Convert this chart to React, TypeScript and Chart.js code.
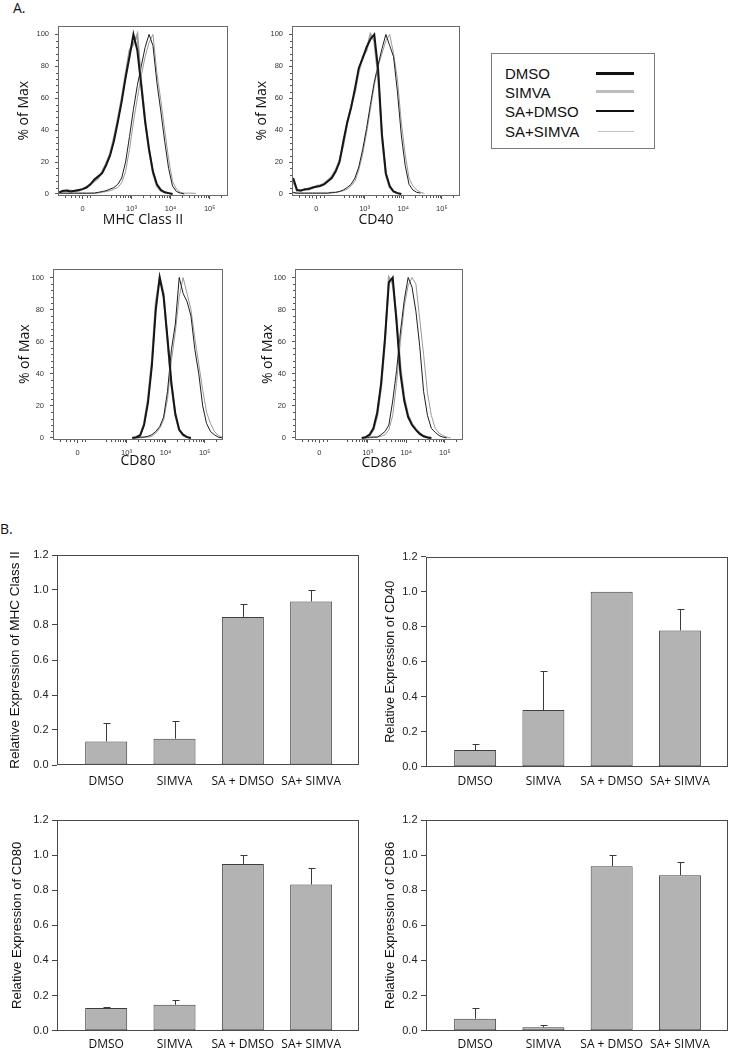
import React, { useEffect, useRef } from "react";
import { Chart, registerables } from "chart.js";

Chart.register(...registerables);

// ---------------- Panel A : flow cytometry histograms ----------------
const SERIES_NAMES = ["DMSO", "SIMVA", "SA+DMSO", "SA+SIMVA"];
const SERIES_COLORS = ["#161616", "#a0a0a0", "#1e1e1e", "#9a9a9a"];
const SERIES_WIDTHS = [2, 2, 1, 1];
const LEGEND_COLORS = ["#111111", "#bdbdbd", "#111111", "#c4c4c4"];
const LEGEND_WIDTHS = [3, 3, 1.5, 1];

const X_TICK_VALUES = [0, 1.25, 2.25, 3.25];
const X_TICK_LABELS = ["0", "10³", "10⁴", "10⁵"];
const Y_TICK_VALUES = [0, 20, 40, 60, 80, 100];

// MHC Class II
const MHC_X = [-0.6, -0.5, -0.4, -0.3, -0.2, -0.1, 0, 0.1, 0.2, 0.3, 0.4, 0.5, 0.6, 0.7, 0.8, 0.9, 1.0, 1.1, 1.2, 1.3, 1.4, 1.5, 1.6, 1.7, 1.8, 1.9, 2.0, 2.1, 2.2, 2.3, 2.4, 2.5, 2.6, 2.7, 2.8, 2.9];
const MHC_DMSO = [1, 2, 2, 1.5, 2, 2.5, 3, 4, 6, 9, 11, 13, 18, 24, 33, 45, 58, 73, 86, 100, 90, 68, 45, 28, 14, 6, 2.5, 1, 0.5, 0, null, null, null, null, null, null];
const MHC_SIMVA = [1, 1.5, 2.5, 2, 1.5, 2, 3, 4.5, 6, 8, 10, 14, 19, 25, 35, 47, 60, 75, 90, 94, 100, 70, 47, 27, 13, 5, 2, 1, 0.5, 0, null, null, null, null, null, null];
const MHC_SADMSO = [0.5, 0.5, 0.5, 0.5, 0.5, 0.5, 0.5, 0.5, 0.5, 0.5, 1, 1.5, 2, 3, 4, 6, 10, 20, 36, 53, 68, 80, 92, 100, 93, 70, 52, 33, 16, 5, 1.5, 0.5, 0, null, null, null];
const MHC_SASIMVA = [0.5, 0.5, 0.3, 0.3, 0.5, 0.3, 0.5, 0.3, 0.5, 0.5, 0.5, 1, 1.5, 2, 3, 4, 7, 14, 28, 45, 60, 74, 86, 95, 100, 76, 59, 40, 22, 8, 3, 1, 0.5, 0.5, 0.5, 0.3];

// CD40
const CD40_X = [-0.6, -0.5, -0.4, -0.3, -0.2, -0.1, 0, 0.1, 0.2, 0.3, 0.4, 0.5, 0.6, 0.7, 0.8, 0.9, 1.0, 1.1, 1.2, 1.3, 1.4, 1.5, 1.6, 1.7, 1.8, 1.9, 2.0, 2.1, 2.2, 2.3, 2.4, 2.5, 2.6, 2.7, 2.8];
const CD40_DMSO = [10, 2.5, 2, 3, 3, 4, 4.5, 5, 6, 8, 10, 14, 20, 33, 45, 54, 66, 79, 85, 92, 97, 100, 78, 37, 13, 5, 1.5, 0.5, 0, null, null, null, null, null, null];
const CD40_SIMVA = [8, 2, 2.5, 2.5, 3.5, 3.5, 5, 5.5, 6.5, 8.5, 11, 15, 21, 31, 44, 55, 64, 77, 86, 90, 100, 96, 74, 35, 12, 4, 1.5, 0.5, 0, null, null, null, null, null, null];
const CD40_SADMSO = [1, 0.5, 0.5, 0.5, 0.5, 0.5, 0.5, 0.5, 0.5, 0.5, 1, 1, 1.5, 2.5, 4, 6, 10, 17, 28, 41, 56, 70, 81, 91, 100, 93, 86, 64, 37, 18, 6, 2.5, 1, 0.5, null];
const CD40_SASIMVA = [0.5, 0.5, 0.5, 0.5, 0.5, 0.5, 0.5, 0.5, 0.5, 0.5, 0.5, 1, 1.5, 2, 3, 5, 8, 15, 25, 38, 53, 68, 80, 88, 96, 100, 88, 72, 45, 25, 10, 5, 2.5, 1, 0.3];

// CD80
const CD80_X = [1.4, 1.5, 1.6, 1.7, 1.8, 1.9, 2.0, 2.1, 2.2, 2.3, 2.4, 2.5, 2.6, 2.7, 2.8, 2.9, 3.0, 3.1, 3.2, 3.3, 3.4, 3.5, 3.6, 3.7];
const CD80_DMSO = [0, 0.5, 1.5, 8, 22, 45, 80, 100, 88, 62, 34, 15, 5, 2, 0.5, 0, null, null, null, null, null, null, null, null];
const CD80_SIMVA = [0, 0.5, 2, 9, 24, 48, 84, 100, 90, 60, 33, 14, 5, 1.5, 0.5, 0, null, null, null, null, null, null, null, null];
const CD80_SADMSO = [0, 0, 0.5, 0.5, 1, 2, 4, 7, 13, 29, 55, 71, 100, 90, 85, 76, 55, 40, 20, 9, 4, 2, 0.5, 0];
const CD80_SASIMVA = [0, 0, 0, 0.5, 0.5, 1, 3, 6, 11, 24, 48, 66, 88, 100, 90, 80, 62, 46, 30, 16, 9, 4, 1.5, 0.3];

// CD86
const CD86_X = [1.1, 1.2, 1.3, 1.4, 1.5, 1.6, 1.7, 1.8, 1.9, 2.0, 2.1, 2.2, 2.3, 2.4, 2.5, 2.6, 2.7, 2.8, 2.9, 3.0, 3.1, 3.2, 3.3, 3.4];
const CD86_DMSO = [0, 0.5, 2, 6, 16, 34, 62, 97, 100, 72, 40, 23, 13, 8, 5, 2.5, 1, 0.3, 0, null, null, null, null, null];
const CD86_SIMVA = [0, 0.5, 1.5, 5, 14, 32, 60, 100, 96, 75, 44, 25, 14, 9, 5.5, 3, 1.2, 0.4, 0, null, null, null, null, null];
const CD86_SADMSO = [0, 0, 0.5, 0.5, 0.5, 2, 4, 8, 23, 42, 66, 86, 100, 94, 79, 57, 29, 14, 6, 3.5, 1.5, 0.5, 0, null];
const CD86_SASIMVA = [0, 0, 0, 0.5, 0.5, 1, 2, 5, 14, 34, 60, 82, 95, 100, 96, 74, 52, 28, 14, 6, 3, 1.5, 0.5, 0];

// ---------------- Panel B : bar charts ----------------
const CATEGORIES = ["DMSO", "SIMVA", "SA + DMSO", "SA+ SIMVA"];
const BAR_Y_TICKS = [0, 0.2, 0.4, 0.6, 0.8, 1.0, 1.2];
const MHC_MEAN = [0.135, 0.15, 0.846, 0.935];
const MHC_ERR = [0.103, 0.1, 0.076, 0.065];
const CD40_MEAN = [0.095, 0.324, 1.0, 0.779];
const CD40_ERR = [0.033, 0.225, 0, 0.122];
const CD80_MEAN = [0.129, 0.148, 0.95, 0.833];
const CD80_ERR = [0.008, 0.028, 0.051, 0.091];
const CD86_MEAN = [0.068, 0.019, 0.937, 0.886];
const CD86_ERR = [0.063, 0.012, 0.064, 0.072];

// ---------------- axis decoration ----------------
const LOG_STEPS = [2, 3, 4, 5, 6, 7, 8, 9].map((k) => Math.log10(k));
const X_MINOR = [-0.45, -0.3, -0.2, -0.1, 0.1, 0.2].concat(
  [0.25, 1.25, 2.25, 3.25].flatMap((d) => LOG_STEPS.map((l) => d + l)).filter((v) => v > 0.7 && v < 3.72)
);
const Y_MINOR = Array.from({ length: 26 }, (_, i) => i * 4).filter((v) => v % 20 !== 0);

const ARIAL = "'Liberation Sans', Arial, sans-serif";
const OPEN = "'Open Sans', 'Liberation Sans', sans-serif";

type Rect = { left: number; top: number; width: number; height: number };
type Frame = { left: number; top: number; right: number; bottom: number };

const framePlugin = {
  id: "frame",
  afterDraw(chart: any, _args: any, opts: any) {
    const { ctx, chartArea: a } = chart;
    ctx.save();
    ctx.strokeStyle = opts.color || "#555";
    ctx.lineWidth = 1;
    ctx.strokeRect(Math.round(a.left) + 0.5, Math.round(a.top) + 0.5, Math.round(a.right) - Math.round(a.left) - 1, Math.round(a.bottom) - Math.round(a.top) - 1);
    ctx.restore();
  },
};

const minorTickPlugin = {
  id: "minorTicks",
  afterDraw(chart: any, _args: any, opts: any) {
    const { ctx, chartArea: a } = chart;
    const xs = chart.scales.x;
    const ys = chart.scales.y;
    ctx.save();
    ctx.strokeStyle = opts.color;
    ctx.lineWidth = 1;
    ctx.beginPath();
    (opts.x || []).forEach((v: number) => {
      if (v <= xs.min || v >= xs.max) return;
      const px = Math.round(xs.getPixelForValue(v)) + 0.5;
      ctx.moveTo(px, a.bottom);
      ctx.lineTo(px, a.bottom + opts.length);
    });
    (opts.y || []).forEach((v: number) => {
      if (v <= ys.min || v >= ys.max) return;
      const py = Math.round(ys.getPixelForValue(v)) + 0.5;
      ctx.moveTo(a.left, py);
      ctx.lineTo(a.left - opts.length, py);
    });
    ctx.stroke();
    ctx.restore();
  },
};

const errorBarPlugin = {
  id: "errorBars",
  afterDatasetsDraw(chart: any, _args: any, opts: any) {
    const { ctx } = chart;
    const ys = chart.scales.y;
    const meta = chart.getDatasetMeta(0);
    const data = chart.data.datasets[0].data;
    ctx.save();
    ctx.strokeStyle = opts.color;
    ctx.lineWidth = 1;
    ctx.beginPath();
    meta.data.forEach((bar: any, i: number) => {
      const err = opts.errors[i];
      if (!err) return;
      const top = Math.round(ys.getPixelForValue(data[i].y + err)) + 0.5;
      const px = Math.round(bar.x) + 0.5;
      ctx.moveTo(px, bar.y);
      ctx.lineTo(px, top);
      ctx.moveTo(px - opts.cap, top);
      ctx.lineTo(px + opts.cap + 1, top);
    });
    ctx.stroke();
    ctx.restore();
  },
};

function fitTo(canvas: Rect, frame: Frame) {
  return {
    padding: { left: 0, top: frame.top - canvas.top, right: canvas.left + canvas.width - frame.right, bottom: 0 },
    yWidth: frame.left - canvas.left,
    xHeight: canvas.top + canvas.height - frame.bottom,
  };
}

type HistSpec = {
  canvas: Rect;
  frame: Frame;
  xs: number[];
  ys: (number | null)[][];
  xTitle: string;
  xTitlePad: number;
  yTitlePad: number;
};

function histConfig(spec: HistSpec): any {
  const fit = fitTo(spec.canvas, spec.frame);
  return {
    type: "line",
    data: {
      datasets: spec.ys.map((ys, i) => ({
        label: SERIES_NAMES[i],
        data: spec.xs.map((x, j) => ({ x, y: ys[j] })),
        borderColor: SERIES_COLORS[i],
        borderWidth: SERIES_WIDTHS[i],
        pointRadius: 0,
        tension: 0,
        fill: false,
        spanGaps: false,
      })),
    },
    options: {
      animation: false,
      responsive: false,
      devicePixelRatio: 1,
      layout: { padding: fit.padding },
      plugins: {
        legend: { display: false },
        tooltip: { enabled: false },
        frame: { color: "#6a6a6a" },
        minorTicks: { x: X_MINOR, y: Y_MINOR, length: 2, color: "#555" },
      },
      scales: {
        x: {
          type: "linear",
          min: -0.63,
          max: 3.72,
          offset: false,
          afterBuildTicks: (s: any) => {
            s.ticks = X_TICK_VALUES.map((v) => ({ value: v }));
          },
          afterFit: (s: any) => {
            s.height = fit.xHeight;
          },
          ticks: {
            autoSkip: false,
            maxRotation: 0,
            padding: 5,
            color: "#333",
            font: { family: ARIAL, size: 7.5 },
            callback: (_v: any, i: number) => X_TICK_LABELS[i],
          },
          grid: { drawOnChartArea: false, drawTicks: true, tickLength: 3, color: "#555" },
          border: { display: false },
          title: { display: true, text: spec.xTitle, color: "#111", font: { family: OPEN, size: 14 }, padding: { top: 0, bottom: spec.xTitlePad } },
        },
        y: {
          type: "linear",
          min: -1.3,
          max: 105.6,
          afterBuildTicks: (s: any) => {
            s.ticks = Y_TICK_VALUES.map((v) => ({ value: v }));
          },
          afterFit: (s: any) => {
            s.width = fit.yWidth;
          },
          ticks: { autoSkip: false, padding: 6, color: "#333", font: { family: ARIAL, size: 7.5 } },
          grid: { drawOnChartArea: false, drawTicks: true, tickLength: 3, color: "#555" },
          border: { display: false },
          title: { display: true, text: "% of Max", color: "#111", font: { family: OPEN, size: 14 }, padding: { top: spec.yTitlePad, bottom: 0 } },
        },
      },
    },
    plugins: [framePlugin, minorTickPlugin],
  };
}

type BarSpec = {
  canvas: Rect;
  frame: Frame;
  mean: number[];
  err: number[];
  yTitle: string;
  yTitleSize: number;
  yTitlePad: number;
  xLabelPad: number;
};

function barConfig(spec: BarSpec): any {
  const fit = fitTo(spec.canvas, spec.frame);
  return {
    type: "bar",
    data: {
      datasets: [
        {
          data: CATEGORIES.map((_c, i) => ({ x: i, y: spec.mean[i] })),
          backgroundColor: "#b3b3b3",
          borderColor: "#3e3e3e",
          borderWidth: 1,
          borderSkipped: false,
          barPercentage: 0.615,
          categoryPercentage: 1,
        },
      ],
    },
    options: {
      animation: false,
      responsive: false,
      devicePixelRatio: 1,
      layout: { padding: fit.padding },
      plugins: {
        legend: { display: false },
        tooltip: { enabled: false },
        frame: { color: "#4a4a4a" },
        errorBars: { errors: spec.err, cap: 3, color: "#3a3a3a" },
      },
      scales: {
        x: {
          type: "linear",
          min: -0.72,
          max: 3.7,
          offset: false,
          afterBuildTicks: (s: any) => {
            s.ticks = CATEGORIES.map((_c, i) => ({ value: i }));
          },
          afterFit: (s: any) => {
            s.height = fit.xHeight;
          },
          ticks: {
            autoSkip: false,
            maxRotation: 0,
            padding: spec.xLabelPad,
            color: "#111",
            font: { family: OPEN, size: 12 },
            callback: (v: any) => CATEGORIES[v],
          },
          grid: { display: false, drawTicks: false },
          border: { display: false },
        },
        y: {
          type: "linear",
          min: 0,
          max: 1.2,
          afterBuildTicks: (s: any) => {
            s.ticks = BAR_Y_TICKS.map((v) => ({ value: v }));
          },
          afterFit: (s: any) => {
            s.width = fit.yWidth;
          },
          ticks: { autoSkip: false, padding: 3.5, color: "#222", font: { family: ARIAL, size: 11 }, callback: (v: any) => Number(v).toFixed(1) },
          grid: { drawOnChartArea: false, drawTicks: true, tickLength: 5, color: "#444" },
          border: { display: false },
          title: { display: true, text: spec.yTitle, color: "#111", font: { family: ARIAL, size: spec.yTitleSize }, padding: { top: spec.yTitlePad, bottom: 0 } },
        },
      },
    },
    plugins: [framePlugin, errorBarPlugin],
  };
}

function ChartBox({ canvas, config }: { canvas: Rect; config: () => any }) {
  const ref = useRef<HTMLCanvasElement | null>(null);
  useEffect(() => {
    const chart = new Chart(ref.current as HTMLCanvasElement, config());
    return () => chart.destroy();
  }, []);
  return (
    <canvas
      ref={ref}
      width={canvas.width}
      height={canvas.height}
      style={{ position: "absolute", left: canvas.left, top: canvas.top, width: canvas.width, height: canvas.height }}
    />
  );
}

const H1: HistSpec = {
  canvas: { left: 0, top: 15, width: 240, height: 220 },
  frame: { left: 58, top: 25, right: 228, bottom: 196 },
  xs: MHC_X,
  ys: [MHC_DMSO, MHC_SIMVA, MHC_SADMSO, MHC_SASIMVA],
  xTitle: "MHC Class II",
  xTitlePad: 6.6,
  yTitlePad: 15.5,
};
const H2: HistSpec = {
  canvas: { left: 234, top: 15, width: 240, height: 220 },
  frame: { left: 292, top: 25, right: 460, bottom: 196 },
  xs: CD40_X,
  ys: [CD40_DMSO, CD40_SIMVA, CD40_SADMSO, CD40_SASIMVA],
  xTitle: "CD40",
  xTitlePad: 6.6,
  yTitlePad: 19.8,
};
const H3: HistSpec = {
  canvas: { left: 0, top: 258, width: 240, height: 220 },
  frame: { left: 53, top: 268, right: 223, bottom: 440 },
  xs: CD80_X,
  ys: [CD80_DMSO, CD80_SIMVA, CD80_SADMSO, CD80_SASIMVA],
  xTitle: "CD80",
  xTitlePad: 8.6,
  yTitlePad: 16.5,
};
const H4: HistSpec = {
  canvas: { left: 234, top: 258, width: 240, height: 220 },
  frame: { left: 295, top: 268, right: 463, bottom: 440 },
  xs: CD86_X,
  ys: [CD86_DMSO, CD86_SIMVA, CD86_SADMSO, CD86_SASIMVA],
  xTitle: "CD86",
  xTitlePad: 6.3,
  yTitlePad: 25.5,
};

const B1: BarSpec = {
  canvas: { left: 0, top: 540, width: 366, height: 255 },
  frame: { left: 57, top: 555, right: 359, bottom: 765 },
  mean: MHC_MEAN,
  err: MHC_ERR,
  yTitle: "Relative Expression of MHC Class II",
  yTitleSize: 13.5,
  yTitlePad: 6.9,
  xLabelPad: 9.5,
};
const B2: BarSpec = {
  canvas: { left: 366, top: 540, width: 363, height: 255 },
  frame: { left: 426, top: 556.7, right: 727.7, bottom: 766.7 },
  mean: CD40_MEAN,
  err: CD40_ERR,
  yTitle: "Relative Expression of CD40",
  yTitleSize: 12.7,
  yTitlePad: 16.4,
  xLabelPad: 8,
};
const B3: BarSpec = {
  canvas: { left: 0, top: 805, width: 366, height: 245 },
  frame: { left: 57, top: 820, right: 359, bottom: 1030.7 },
  mean: CD80_MEAN,
  err: CD80_ERR,
  yTitle: "Relative Expression of CD80",
  yTitleSize: 13.1,
  yTitlePad: 9.6,
  xLabelPad: 7,
};
const B4: BarSpec = {
  canvas: { left: 366, top: 805, width: 363, height: 245 },
  frame: { left: 426, top: 820, right: 727.7, bottom: 1030.7 },
  mean: CD86_MEAN,
  err: CD86_ERR,
  yTitle: "Relative Expression of CD86",
  yTitleSize: 13.1,
  yTitlePad: 16.1,
  xLabelPad: 7,
};

const LEGEND_ROW_CENTERS = [74.3, 93.3, 112.3, 132.3];
const LEGEND_LINE_CENTERS = [73.5, 91, 110.8, 131.2];
const LEGEND_LINE_LEFT = [596, 596, 596, 598];
const LEGEND_LINE_RIGHT = 634;

function Legend() {
  return (
    <>
      <div
        style={{
          position: "absolute",
          left: 491,
          top: 53,
          width: 162,
          height: 94,
          border: "1px solid #7a7a7a",
        }}
      />
      {SERIES_NAMES.map((name, i) => (
        <React.Fragment key={name}>
          <div
            style={{
              position: "absolute",
              left: 505,
              top: LEGEND_ROW_CENTERS[i] - 10,
              height: 20,
              lineHeight: "20px",
              fontFamily: ARIAL,
              fontSize: 15,
              color: "#111",
              whiteSpace: "nowrap",
            }}
          >
            {name}
          </div>
          <div
            style={{
              position: "absolute",
              left: LEGEND_LINE_LEFT[i],
              width: LEGEND_LINE_RIGHT - LEGEND_LINE_LEFT[i],
              top: LEGEND_LINE_CENTERS[i] - LEGEND_WIDTHS[i] / 2,
              height: LEGEND_WIDTHS[i],
              background: LEGEND_COLORS[i],
            }}
          />
        </React.Fragment>
      ))}
    </>
  );
}

export default function App() {
  return (
    <div style={{ position: "absolute", left: 0, top: 0, width: 729, height: 1050, background: "#fff", overflow: "hidden" }}>
      <div style={{ position: "absolute", left: 13, top: 0, fontFamily: OPEN, fontSize: 14, lineHeight: "16px", color: "#111" }}>A.</div>
      <div style={{ position: "absolute", left: 0, top: 521, fontFamily: OPEN, fontSize: 14, lineHeight: "16px", color: "#111" }}>B.</div>
      <ChartBox canvas={H1.canvas} config={() => histConfig(H1)} />
      <ChartBox canvas={H2.canvas} config={() => histConfig(H2)} />
      <ChartBox canvas={H3.canvas} config={() => histConfig(H3)} />
      <ChartBox canvas={H4.canvas} config={() => histConfig(H4)} />
      <Legend />
      <ChartBox canvas={B1.canvas} config={() => barConfig(B1)} />
      <ChartBox canvas={B2.canvas} config={() => barConfig(B2)} />
      <ChartBox canvas={B3.canvas} config={() => barConfig(B3)} />
      <ChartBox canvas={B4.canvas} config={() => barConfig(B4)} />
    </div>
  );
}
